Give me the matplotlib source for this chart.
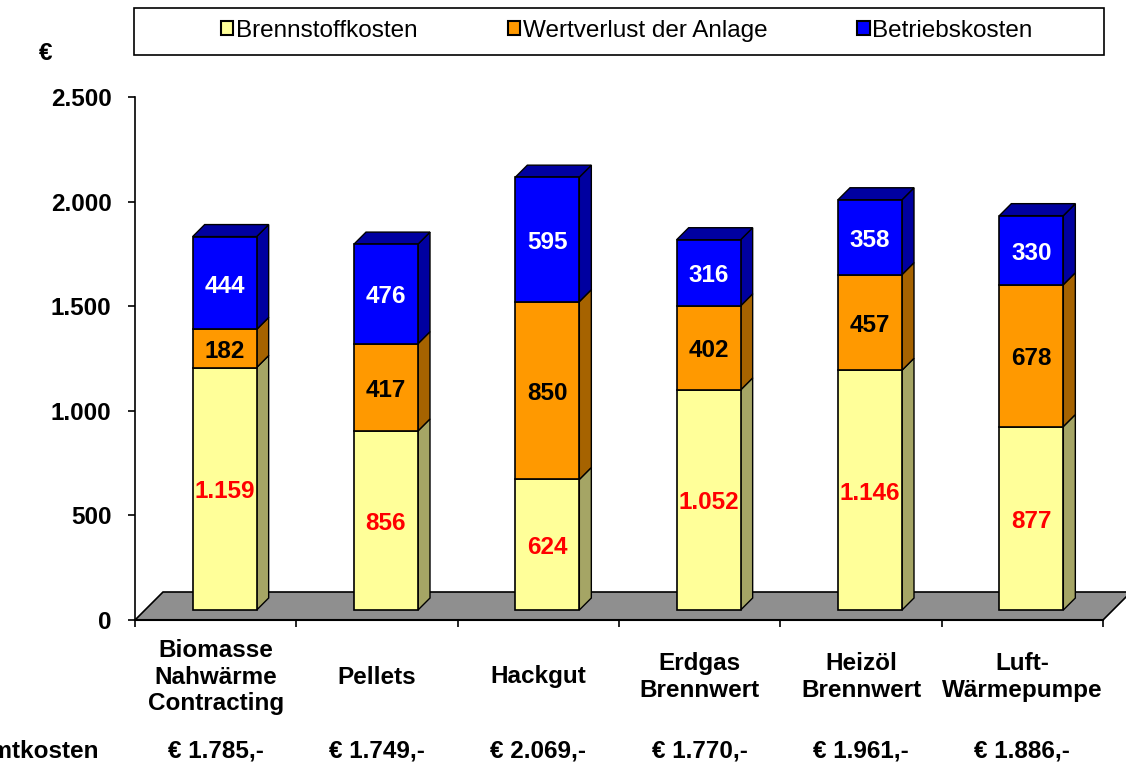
import matplotlib.pyplot as plt
from matplotlib.patches import Polygon, Rectangle, Patch
from matplotlib.transforms import blended_transform_factory

plt.rcParams['font.family'] = ['Liberation Sans', 'DejaVu Sans']

categories = ["Biomasse\nNahwärme\nContracting", "Pellets", "Hackgut",
              "Erdgas\nBrennwert", "Heizöl\nBrennwert", "Luft-\nWärmepumpe"]
brennstoff = [1159, 856, 624, 1052, 1146, 877]
wertverlust = [182, 417, 850, 402, 457, 678]
betrieb = [444, 476, 595, 316, 358, 330]
totals = ["€ 1.785,-", "€ 1.749,-", "€ 2.069,-", "€ 1.770,-", "€ 1.961,-", "€ 1.886,-"]
series_names = ["Brennstoffkosten", "Wertverlust der Anlage", "Betriebskosten"]
yticks = [0, 500, 1000, 1500, 2000, 2500]

front_cols = ["#FFFF99", "#FF9900", "#0000FF"]
side_cols = ["#A5A565", "#A66300", "#0000A0"]
txt_cols = ["red", "black", "white"]
FS = 17.5

def de_num(v):
    return f"{v:,}".replace(",", ".")

W, H = 1126, 765
fig = plt.figure(figsize=(W / 100, H / 100), dpi=100)
ax_l, ax_b, ax_w, ax_h = 135, 620, 968, 523  # pixels
ax = fig.add_axes([ax_l / W, (H - ax_b) / H, ax_w / W, ax_h / H])
n = len(categories)
ax.set_xlim(0, n)
ax.set_ylim(0, 2500)

# pixel -> data unit helpers
px_x = n / ax_w
px_y = 2500 / ax_h

# floor
fdx, fdy = 28 * px_x, 28 * px_y
floor = Polygon([(0, 0), (n, 0), (n + fdx, fdy), (fdx, fdy)], closed=True,
                facecolor="#8F8F8F", edgecolor="black", lw=1.2, clip_on=False, zorder=1)
ax.add_patch(floor)

bw = 64 * px_x
ox, oy = 9 * px_x, 10 * px_y
ddx, ddy = 12 * px_x, 12 * px_y

for i in range(n):
    x0 = i + 0.5 - bw / 2 + ox
    x1 = x0 + bw
    base = oy
    for s, vals in enumerate([brennstoff, wertverlust, betrieb]):
        v = vals[i]
        y0, y1 = base, base + v
        ax.add_patch(Polygon([(x1, y0), (x1 + ddx, y0 + ddy), (x1 + ddx, y1 + ddy), (x1, y1)],
                             closed=True, facecolor=side_cols[s], edgecolor="black",
                             lw=1, clip_on=False, zorder=2))
        ax.add_patch(Rectangle((x0, y0), bw, v, facecolor=front_cols[s], edgecolor="black",
                               lw=1.2, clip_on=False, zorder=3))
        if s == 2:
            ax.add_patch(Polygon([(x0, y1), (x1, y1), (x1 + ddx, y1 + ddy), (x0 + ddx, y1 + ddy)],
                                 closed=True, facecolor=side_cols[s], edgecolor="black",
                                 lw=1, clip_on=False, zorder=2))
        ax.text(x0 + bw / 2, (y0 + y1) / 2 - 3 * px_y, de_num(v), ha="center", va="center",
                fontsize=FS, fontweight="bold", color=txt_cols[s], zorder=5)
        base = y1

for sp in ["top", "right"]:
    ax.spines[sp].set_visible(False)
ax.spines["left"].set_linewidth(1.2)
ax.spines["bottom"].set_linewidth(1.5)
ax.spines["bottom"].set_zorder(4)

ax.set_yticks(yticks)
ax.set_yticklabels([de_num(t) for t in yticks], fontsize=FS, fontweight="bold")
ax.tick_params(axis="y", direction="out", length=5, width=1.2, pad=12)
ax.set_xticks(range(n + 1))
ax.set_xticklabels([])
ax.tick_params(axis="x", direction="out", length=5, width=1.2)

trans = blended_transform_factory(ax.transData, ax.transAxes)
for i, cat in enumerate(categories):
    ax.text(i + 0.5, -(677 - ax_b) / ax_h, cat, transform=trans, ha="center", va="center",
            fontsize=FS, fontweight="bold", linespacing=1.17)
    ax.text(i + 0.5, -(751 - ax_b) / ax_h, totals[i], transform=trans, ha="center", va="center",
            fontsize=FS, fontweight="bold")
ax.text((98 - ax_l) / ax_w * n, -(751 - ax_b) / ax_h, "Gesamtkosten", transform=trans,
        ha="right", va="center", fontsize=FS, fontweight="bold", clip_on=False)

fig.text(46 / W, 1 - 54 / H, "€", ha="center", va="center", fontsize=FS, fontweight="bold")

# legend box
fig.patches.append(Rectangle((134 / W, 1 - 55 / H), 970 / W, 47 / H, transform=fig.transFigure,
                             facecolor="white", edgecolor="black", lw=1.2))
handles = [Patch(facecolor=front_cols[k], edgecolor="black", lw=1.5) for k in range(3)]
fig.legend(handles, series_names, loc="center", bbox_to_anchor=(627 / W, 1 - 31 / H),
           ncol=3, frameon=False, fontsize=FS, handlelength=0.5, handleheight=0.5,
           handletextpad=0.12, columnspacing=3.7, borderpad=0)

fig.savefig("out.png", dpi=100)
